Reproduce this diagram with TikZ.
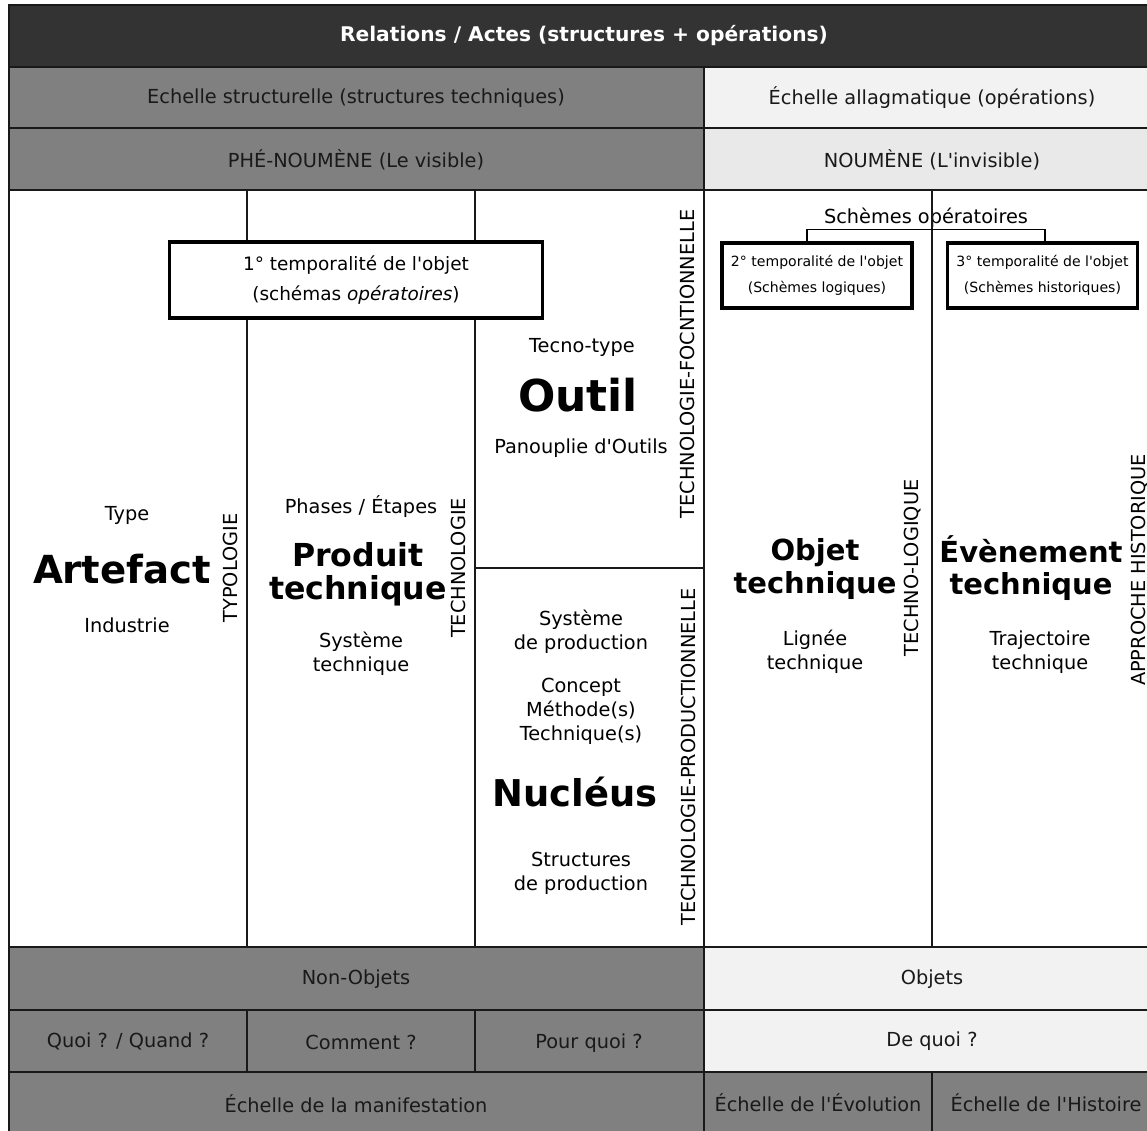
\documentclass[tikz,border=0pt]{standalone}
\usepackage{fontspec}
\defaultfontfeatures[\rmfamily]{}
\setmainfont{DejaVu Sans}
\definecolor{fonce}{HTML}{333333}
\definecolor{gris}{HTML}{808080}
\definecolor{clair}{HTML}{F2F2F2}
\definecolor{clairbis}{HTML}{E9E9E9}
\tikzset{
  trait/.style={line width=1.1pt, draw=black!90},
  cellule/.style={font=\fontsize{11}{14}\selectfont, text=black!90},
  texte/.style={font=\fontsize{11}{13.6}\selectfont, align=center},
  grand/.style={font=\bfseries\fontsize{18}{18}\selectfont, align=center},
  vertical/.style={rotate=90, font=\fontsize{11}{13}\selectfont},
  temps/.style={draw, line width=2.2pt, fill=white, align=center, inner sep=0pt}
}
\begin{document}
\begin{tikzpicture}[x=0.02cm, y=-0.02cm]
    \clip (0,0) rectangle (1147,1131);
    \fill[fonce] (9,5) rectangle (1170,67);
    \fill[gris] (9,67) rectangle (704,190);
    \fill[clair] (704,67) rectangle (1170,128);
    \fill[clairbis] (704,128) rectangle (1170,190);
    \fill[gris] (9,947) rectangle (704,1140);
    \fill[clair] (704,947) rectangle (1170,1072);
    \fill[gris] (704,1072) rectangle (1170,1140);

    \node (titre) at (584,36) {\color{white}\bfseries\fontsize{11.5}{14}\selectfont Relations / Actes (structures + opérations)};
    \node[cellule] (echstruct) at (356,98) {Echelle structurelle (structures techniques)};
    \node[cellule] (echallag) at (932,98) {Échelle allagmatique (opérations)};
    \node[cellule] (phenom) at (356,160) {PHÉ-NOUMÈNE (Le visible)};
    \node[cellule] (noumene) at (932,160) {NOUMÈNE (L'invisible)};

    \node[texte] (type) at (127,515) {Type};
    \node[grand, font=\bfseries\fontsize{22}{22}\selectfont] (artefact) at (122,569) {Artefact};
    \node[texte] (industrie) at (127,625) {Industrie};
    \node[vertical] (typologie) at (230,568) {TYPOLOGIE};

    \node[texte] (phases) at (361,507) {Phases / Étapes};
    \node[grand, font=\bfseries\fontsize{18}{19}\selectfont] (produit) at (358,574) {Produit\\technique};
    \node[texte] (systeme) at (361,654) {Système\\technique};
    \node[vertical] (technologie) at (458,568) {TECHNOLOGIE};

    \node[texte] (tecnotype) at (582,347) {Tecno-type};
    \node[grand, font=\bfseries\fontsize{25}{25}\selectfont] (outil) at (578,395) {Outil};
    \node[texte] (panouplie) at (581,448) {Panouplie d'Outils};
    \node[vertical] (fonctionnelle) at (687,364) {TECHNOLOGIE-FOCNTIONNELLE};

    \node[texte] (sysprod) at (581,632) {Système\\de production};
    \node[texte] (concept) at (581,711) {Concept\\Méthode(s)\\Technique(s)};
    \node[grand, font=\bfseries\fontsize{21}{21}\selectfont] (nucleus) at (575,792) {Nucléus};
    \node[texte] (structprod) at (581,873) {Structures\\de production};
    \node[vertical] (productionnelle) at (688,757) {TECHNOLOGIE-PRODUCTIONNELLE};

    \node[texte] (schemes) at (926,218) {Schèmes opératoires};
    \node[grand, font=\bfseries\fontsize{16.5}{18.5}\selectfont] (objet) at (815,569) {Objet\\technique};
    \node[texte] (lignee) at (815,652) {Lignée\\technique};
    \node[vertical] (technologique) at (913,568) {TECHNO-LOGIQUE};

    \node[grand, font=\bfseries\fontsize{16.5}{18.5}\selectfont] (evenement) at (1031,568) {Évènement\\technique};
    \node[texte] (trajectoire) at (1040,652) {Trajectoire\\technique};
    \node[vertical] (historique) at (1140,570) {APPROCHE HISTORIQUE};

    \node[cellule] (nonobjets) at (356,979) {Non-Objets};
    \node[cellule] (objets) at (932,979) {Objets};
    \node[cellule] (quoi) at (128,1041) {Quoi ? / Quand ?};
    \node[cellule] (comment) at (361,1042) {Comment ?};
    \node[cellule] (pourquoi) at (589,1043) {Pour quoi ?};
    \node[cellule] (dequoi) at (932,1041) {De quoi ?};
    \node[cellule] (manif) at (356,1104) {Échelle de la manifestation};
    \node[cellule] (evolution) at (818,1103) {Échelle de l'Évolution};
    \node[cellule] (histoire) at (1046,1103) {Échelle de l'Histoire};

    \draw[trait] (9,1140) -- (9,5) -- (1170,5);
    \foreach \y in {67,128,190,947,1010,1072}
        \draw[trait] (9,\y) -- (1170,\y);
    \foreach \x in {247,475}
        \draw[trait] (\x,190) -- (\x,947) (\x,1010) -- (\x,1072);
    \draw[trait] (704,67) -- (704,1140);
    \draw[trait] (932,190) -- (932,947) (932,1072) -- (932,1140);
    \draw[trait] (475,568) -- (704,568);

    \node[temps, minimum width=7.46cm, minimum height=1.52cm, font=\fontsize{10.5}{17}\selectfont] (temps1) at (356,280) {1° temporalité de l'objet\\(schémas \textit{opératoires})};
    \node[temps, minimum width=3.8cm, minimum height=1.3cm, font=\fontsize{8}{15}\selectfont] (temps2) at (817,275.5) {2° temporalité de l'objet\\(Schèmes logiques)};
    \node[temps, minimum width=3.8cm, minimum height=1.3cm, font=\fontsize{8}{15}\selectfont] (temps3) at (1042.5,275.5) {3° temporalité de l'objet\\(Schèmes historiques)};
    \draw[line width=0.6pt] ([xshift=-0.2cm]temps2.north) -- ++(0,-12) -| ([xshift=0.05cm]temps3.north);
\end{tikzpicture}
\end{document}
